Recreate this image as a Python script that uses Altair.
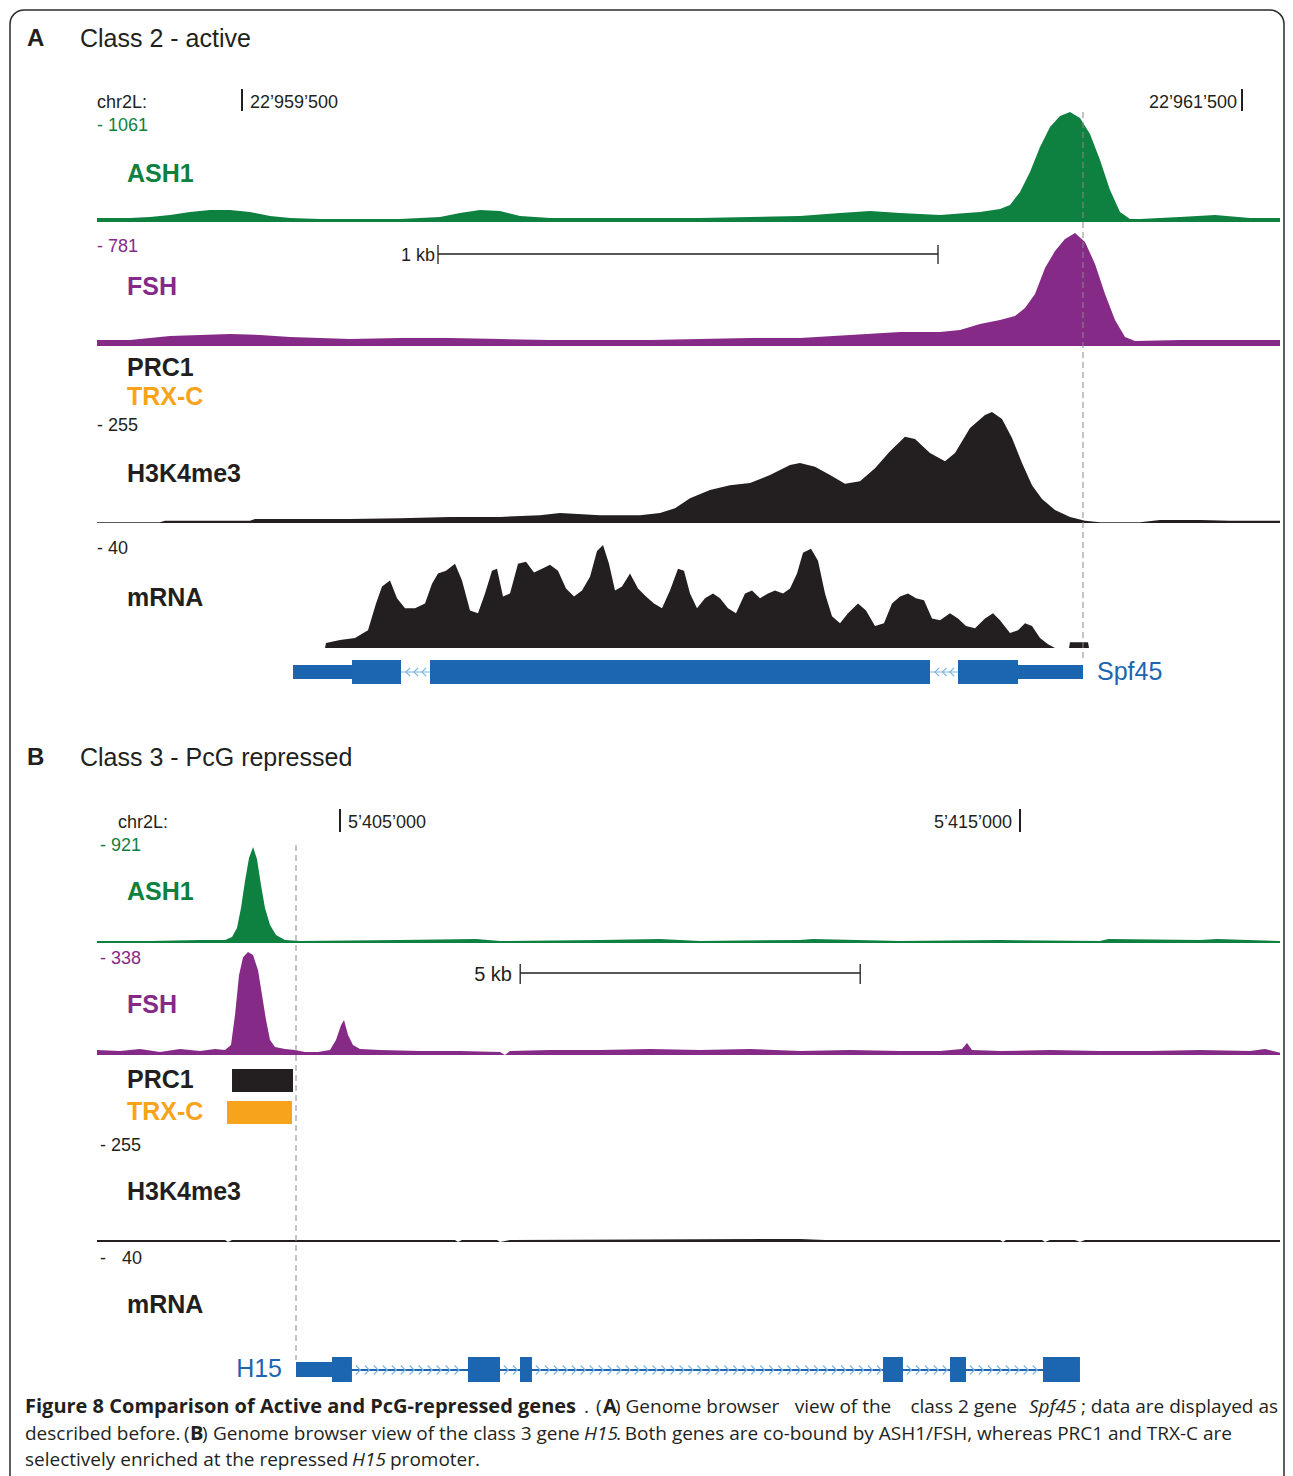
import altair as alt
import pandas as pd
import numpy as np

OFF = 8  # page margin
FONT = "Liberation Sans"
CAP_FONT = "Open Sans"
GREEN = "#0e8141"
PURPLE = "#862a87"
BLACK = "#231f20"
ORANGE = "#f8a31c"
BLUE = "#1b65b1"
LIGHTBLUE = "#7db6e6"
GRAY = "#8a8a8a"

# ---------------- Panel A: chr2L, offsets (bp) from 22,959,000 ----------------
A_BASE = 22_959_000
A_TICKS = [500, 2500]
A_TICK_LABELS = ["22\u2019959\u2019500", "22\u2019961\u2019500"]
A_SCALEBAR = [892, 1892]
A_TSS = 2182

ash1_a_pos = [210, 236, 276, 316, 356, 396, 436, 476, 516, 556, 596, 656, 736, 816, 896, 936,
              976, 1016, 1056, 1116, 1216, 1316, 1416, 1516, 1616, 1696, 1756, 1816, 1896, 1976,
              2016, 2036, 2056, 2076, 2096, 2116, 2136, 2156, 2176, 2196, 2216, 2236, 2256, 2276,
              2296, 2376, 2446, 2516, 2576]
ash1_a_val = [39, 39, 39, 48, 68, 97, 116, 116, 97, 58, 39, 29, 29, 29, 48, 87, 116, 106, 58, 39,
              39, 39, 39, 48, 58, 87, 106, 87, 68, 97, 125, 164, 290, 482, 724, 917, 1023, 1061,
              1004, 849, 598, 309, 97, 29, 29, 48, 68, 39, 39]

fsh_a_pos = [210, 276, 316, 356, 416, 476, 536, 596, 656, 716, 816, 916, 1016, 1116, 1216, 1316,
             1416, 1516, 1616, 1716, 1816, 1896, 1936, 1976, 2016, 2046, 2066, 2086, 2106, 2126,
             2146, 2166, 2186, 2206, 2226, 2246, 2266, 2286, 2376, 2476, 2576]
fsh_a_val = [41, 41, 55, 69, 76, 83, 76, 62, 55, 48, 55, 55, 48, 41, 41, 41, 48, 55, 55, 76, 97,
             97, 111, 152, 180, 207, 263, 359, 539, 656, 739, 781, 719, 567, 359, 180, 62, 35, 41,
             41, 41]

h3_a_pos = [210, 336, 346, 516, 526, 616, 716, 816, 916, 1016, 1096, 1136, 1216, 1296, 1336, 1366,
            1396, 1436, 1476, 1516, 1556, 1596, 1616, 1646, 1676, 1706, 1736, 1766, 1796, 1826,
            1846, 1876, 1906, 1926, 1956, 1986, 2000, 2020, 2040, 2060, 2080, 2100, 2126, 2156,
            2186, 2216, 2296, 2336, 2416, 2476, 2576]
h3_a_val = [2, 2, 5, 5, 9, 9, 9, 11, 14, 14, 18, 23, 18, 18, 23, 34, 57, 76, 87, 92, 110, 133, 138,
            129, 110, 90, 96, 126, 165, 198, 193, 161, 142, 161, 218, 248, 255, 239, 195, 138, 87,
            55, 30, 14, 5, 2, 2, 7, 7, 5, 5]

mrna_a_pos = [666, 668, 696, 726, 752, 768, 780, 796, 810, 826, 846, 866, 880, 892, 908, 926, 940,
              956, 972, 986, 1000, 1010, 1022, 1036, 1052, 1068, 1084, 1100, 1116, 1132, 1148,
              1164, 1180, 1196, 1210, 1222, 1234, 1246, 1260, 1276, 1292, 1308, 1324, 1340, 1356,
              1372, 1384, 1396, 1410, 1426, 1442, 1456, 1472, 1488, 1506, 1520, 1536, 1552, 1566,
              1582, 1596, 1610, 1622, 1638, 1652, 1666, 1680, 1696, 1712, 1732, 1748, 1766, 1784,
              1800, 1816, 1832, 1848, 1864, 1880, 1896, 1916, 1932, 1948, 1966, 1986, 2002, 2016,
              2036, 2052, 2066, 2080, 2096, 2112, 2126, 2154, 2156, 2192, 2194]
mrna_a_val = [0, 1.9, 3.1, 3.9, 6.9, 17.3, 23.9, 26.2, 19.3, 15.4, 15.4, 17.3, 25, 28.9, 30, 32.7,
              26.2, 14.6, 13.5, 21.2, 30, 30.8, 20, 21.2, 32.7, 33.5, 29.3, 30.8, 32.3, 30, 23.1,
              20, 22.3, 27.7, 37.7, 40, 32.7, 22.3, 23.9, 28.9, 23.1, 20, 17.3, 15.4, 22.3, 30.8,
              30, 21.2, 15.4, 19.3, 21.2, 19.3, 15.4, 13.5, 21.2, 22.3, 19.3, 21.2, 22.3, 21.2,
              23.1, 28.9, 37, 38.5, 33.9, 21.2, 12.3, 9.6, 13.5, 17.3, 14.6, 8.5, 9.6, 17.3, 20,
              21.2, 19.3, 18.5, 11.5, 10.8, 13.5, 11.5, 8.5, 7.7, 11.5, 13.5, 10.8, 5.8, 6.9, 9.6,
              8.5, 3.9, 1.5, 0, 0, 2.2, 2.2, 0]

gene_a_utr = [(602, 720), (2052, 2182)]
gene_a_exon = [(720, 818), (876, 1876), (1932, 2052)]
gene_a_chev = [832, 848, 864, 1890, 1905, 1920]

# ---------------- Panel B: chr2L, offsets (bp) from 5,400,000 ----------------
B_BASE = 5_400_000
B_TICKS = [5000, 15000]
B_TICK_LABELS = ["5\u2019405\u2019000", "5\u2019415\u2019000"]
B_SCALEBAR = [7650, 12650]
B_TSS = 4353

ash1_b_pos = [1426, 2206, 2941, 3309, 3412, 3485, 3544, 3603, 3662, 3721, 3779, 3838, 3897, 3971,
              4059, 4191, 4412, 5882, 7000, 7353, 8824, 9700, 10294, 11765, 11950, 13235, 14706,
              16176, 16300, 17647, 17900, 18824]
ash1_b_val = [19, 19, 29, 29, 58, 144, 336, 595, 816, 921, 806, 557, 336, 173, 77, 29, 19, 29, 38,
              19, 29, 38, 19, 29, 38, 19, 29, 19, 38, 29, 38, 19]

fsh_b_pos = [1426, 1765, 2059, 2353, 2647, 2941, 3162, 3309, 3397, 3456, 3515, 3574, 3647, 3721,
             3794, 3853, 3912, 3971, 4044, 4191, 4338, 4485, 4676, 4853, 4941, 5015, 5059, 5118,
             5191, 5294, 5588, 6176, 6765, 7353, 7426, 7500, 8088, 8824, 9559, 10294, 11029, 11765,
             12500, 13235, 13824, 14147, 14221, 14294, 14706, 15441, 16176, 16912, 17647, 18382,
             18603, 18824]
fsh_b_val = [16, 13, 20, 10, 20, 13, 20, 16, 33, 131, 262, 321, 338, 328, 279, 197, 115, 49, 26,
             20, 16, 10, 10, 16, 49, 98, 115, 66, 33, 20, 16, 13, 13, 10, 0, 13, 16, 16, 20, 16,
             20, 13, 16, 13, 13, 20, 39, 16, 13, 16, 13, 13, 16, 13, 20, 7]

h3_b_pos = [1426, 3309, 3353, 3412, 4265, 4412, 6691, 6735, 6794, 7309, 7353, 7500, 11765, 12132,
            14706, 14750, 14794, 15324, 15368, 15441, 15809, 15882, 15956, 18824]
h3_b_val = [5, 5, 0, 5, 5, 5, 5, 0, 5, 5, 0, 5, 8, 5, 5, 0, 5, 5, 0, 5, 5, 0, 5, 5]

prc1_b = [(3412, 4309)]
trxc_b = [(3338, 4294)]

gene_b_utr = [(4353, 4882)]
gene_b_exon = [(4882, 5176), (6882, 7353), (7647, 7823), (12985, 13279), (13971, 14206),
               (15338, 15882)]
gene_b_introns = [(5176, 6882), (7353, 7647), (7823, 12985), (13279, 13971), (14206, 15338)]

# ---------------- Caption (justified text, placed word-group by word-group) ----------------
caption = [
    # (text, x, y, weight, style, align)
    ("Figure 8 Comparison of Active and PcG-repressed genes", 25, 1406, "bold", "normal", "left"),
    (".", 584, 1406, "normal", "normal", "left"),
    ("(", 596, 1406, "normal", "normal", "left"),
    ("A", 603, 1406, "bold", "normal", "left"),
    (") Genome browser", 615, 1406, "normal", "normal", "left"),
    ("view of the", 843, 1406, "normal", "normal", "center"),
    ("class 2 gene", 1017, 1406, "normal", "normal", "right"),
    ("Spf45", 1029, 1406, "normal", "italic", "left"),
    ("; data are displayed as", 1278, 1406, "normal", "normal", "right"),
    ("described before.", 25, 1433, "normal", "normal", "left"),
    ("(", 184, 1433, "normal", "normal", "left"),
    ("B", 190, 1433, "bold", "normal", "left"),
    (")", 202, 1433, "normal", "normal", "left"),
    ("Genome browser view of the class 3 gene", 213, 1433, "normal", "normal", "left"),
    ("H15", 584, 1433, "normal", "italic", "left"),
    (".", 616, 1433, "normal", "normal", "left"),
    ("Both genes are co-bound by ASH1/FSH, whereas PRC1 and TRX-C are", 1232, 1433, "normal",
     "normal", "right"),
    ("selectively enriched at the repressed", 25, 1459, "normal", "normal", "left"),
    ("H15", 352, 1459, "normal", "italic", "left"),
    ("promoter.", 390, 1459, "normal", "normal", "left"),
]

# ---------------- helpers ----------------
def xscale_a():
    return alt.Scale(domain=[A_BASE + A_TICKS[0], A_BASE + A_TICKS[1]],
                     range=[242 - OFF, 1242 - OFF], zero=False, nice=False)


def xscale_b():
    return alt.Scale(domain=[B_BASE + B_TICKS[0], B_BASE + B_TICKS[1]],
                     range=[340 - OFF, 1020 - OFF], zero=False, nice=False)


def track(base, pos, val, vmax, y_base, y_top, color, xs):
    df = pd.DataFrame({"pos": [base + p for p in pos], "val": val})
    df["zero"] = 0
    return alt.Chart(df).mark_area(color=color, interpolate="linear").encode(
        x=alt.X("pos:Q", scale=xs, axis=None),
        y=alt.Y("val:Q", scale=alt.Scale(domain=[0, vmax], range=[y_base - OFF, y_top - OFF],
                                         zero=False, nice=False), axis=None),
        y2="zero:Q",
    )


def blocks(base, spans, y0, y1, color, xs):
    df = pd.DataFrame({"s": [base + a for a, b in spans], "e": [base + b for a, b in spans]})
    return alt.Chart(df).mark_rect(color=color).encode(
        x=alt.X("s:Q", scale=xs, axis=None), x2="e:Q",
        y=alt.value(y0 - OFF), y2=alt.value(y1 - OFF))


def hline(base, spans, y, color, xs, width=1.5):
    df = pd.DataFrame({"s": [base + a for a, b in spans], "e": [base + b for a, b in spans]})
    return alt.Chart(df).mark_rule(color=color, strokeWidth=width).encode(
        x=alt.X("s:Q", scale=xs, axis=None), x2="e:Q", y=alt.value(y - OFF))


def vlines(base, positions, y0, y1, color, xs, width=1.6, dash=None):
    df = pd.DataFrame({"p": [base + p for p in positions]})
    kw = dict(color=color, strokeWidth=width)
    if dash:
        kw["strokeDash"] = dash
    return alt.Chart(df).mark_rule(**kw).encode(
        x=alt.X("p:Q", scale=xs, axis=None), y=alt.value(y0 - OFF), y2=alt.value(y1 - OFF))


def chevrons(base, positions, y, xs, direction, size=70):
    path = "M0.5,-1L-0.5,0L0.5,1" if direction == "left" else "M-0.5,-1L0.5,0L-0.5,1"
    df = pd.DataFrame({"p": [base + p for p in positions]})
    return alt.Chart(df).mark_point(shape=path, filled=False, color=LIGHTBLUE, size=size,
                                    strokeWidth=1.2, opacity=1).encode(
        x=alt.X("p:Q", scale=xs, axis=None), y=alt.value(y - OFF))


def lab(text, x, y, size, color=BLACK, weight="normal", style="normal", align="left", font=FONT):
    df = pd.DataFrame({"t": [text]})
    return alt.Chart(df).mark_text(align=align, baseline="middle", fontSize=size, font=font,
                                   fontWeight=weight, fontStyle=style, color=color).encode(
        text="t:N", x=alt.value(x - OFF), y=alt.value(y - OFF + 1))


layers = []

# frame
frame_df = pd.DataFrame({"k": [0]})
layers.append(alt.Chart(frame_df).mark_rect(fill=None, stroke="#2b2b2b", strokeWidth=1.5,
                                            cornerRadius=14).encode(
    x=alt.value(10 - OFF), x2=alt.value(1284 - OFF), y=alt.value(10 - OFF), y2=alt.value(1500)))

# ---- Panel A ----
xa = xscale_a
layers += [
    lab("A", 27, 38, 24, weight="bold"),
    lab("Class 2 - active", 80, 38, 25),
    lab("chr2L:", 97, 102, 18),
    vlines(A_BASE, A_TICKS, 89, 111, BLACK, xa(), width=2),
    lab(A_TICK_LABELS[0], 250, 102, 18),
    lab(A_TICK_LABELS[1], 1237, 102, 18, align="right"),
    lab("- 1061", 97, 125, 18, color=GREEN),
    lab("ASH1", 127, 173, 25, color=GREEN, weight="bold"),
    lab("- 781", 97, 246, 18, color=PURPLE),
    lab("1 kb", 435, 255, 18, align="right"),
    hline(A_BASE, [tuple(A_SCALEBAR)], 254, BLACK, xa(), width=1.3),
    vlines(A_BASE, A_SCALEBAR, 245, 264, BLACK, xa(), width=1.3),
    lab("FSH", 127, 286, 25, color=PURPLE, weight="bold"),
    lab("PRC1", 127, 367, 25, weight="bold"),
    lab("TRX-C", 127, 396, 25, color=ORANGE, weight="bold"),
    lab("- 255", 97, 425, 18),
    lab("H3K4me3", 127, 473, 25, weight="bold"),
    lab("- 40", 97, 548, 18),
    lab("mRNA", 127, 597, 25, weight="bold"),
    track(A_BASE, ash1_a_pos, ash1_a_val, 1061, 222, 112, GREEN, xa()),
    track(A_BASE, fsh_a_pos, fsh_a_val, 781, 346, 233, PURPLE, xa()),
    track(A_BASE, h3_a_pos, h3_a_val, 255, 523, 412, BLACK, xa()),
    track(A_BASE, mrna_a_pos, mrna_a_val, 40, 648, 545, BLACK, xa()),
    vlines(A_BASE, [A_TSS], 112, 662, GRAY, xa(), width=1, dash=[6, 4]),
    hline(A_BASE, [(gene_a_utr[0][0], gene_a_utr[-1][1])], 672, LIGHTBLUE, xa(), width=1),
    blocks(A_BASE, gene_a_utr, 665, 679, BLUE, xa()),
    blocks(A_BASE, gene_a_exon, 660, 684, BLUE, xa()),
    chevrons(A_BASE, gene_a_chev, 672, xa(), "left"),
    lab("Spf45", 1097, 671, 25, color=BLUE),
]

# ---- Panel B ----
xb = xscale_b
chev_b = []
for s, e in gene_b_introns:
    chev_b += list(np.arange(s + 90, e - 40, 132))
layers += [
    lab("B", 27, 757, 24, weight="bold"),
    lab("Class 3 - PcG repressed", 80, 757, 25),
    lab("chr2L:", 118, 822, 18),
    vlines(B_BASE, B_TICKS, 809, 832, BLACK, xb(), width=2),
    lab(B_TICK_LABELS[0], 348, 822, 18),
    lab(B_TICK_LABELS[1], 1012, 822, 18, align="right"),
    lab("- 921", 100, 845, 18, color=GREEN),
    lab("ASH1", 127, 891, 25, color=GREEN, weight="bold"),
    lab("- 338", 100, 958, 18, color=PURPLE),
    lab("5 kb", 512, 974, 20, align="right"),
    hline(B_BASE, [tuple(B_SCALEBAR)], 973, BLACK, xb(), width=1.3),
    vlines(B_BASE, B_SCALEBAR, 964, 984, BLACK, xb(), width=1.3),
    lab("FSH", 127, 1004, 25, color=PURPLE, weight="bold"),
    lab("PRC1", 127, 1079, 25, weight="bold"),
    lab("TRX-C", 127, 1111, 25, color=ORANGE, weight="bold"),
    lab("- 255", 100, 1145, 18),
    lab("H3K4me3", 127, 1191, 25, weight="bold"),
    lab("-", 100, 1258, 18),
    lab("40", 122, 1258, 18),
    lab("mRNA", 127, 1304, 25, weight="bold"),
    track(B_BASE, ash1_b_pos, ash1_b_val, 921, 943, 847, GREEN, xb()),
    track(B_BASE, fsh_b_pos, fsh_b_val, 338, 1055, 952, PURPLE, xb()),
    track(B_BASE, h3_b_pos, h3_b_val, 255, 1242, 1145, BLACK, xb()),
    blocks(B_BASE, prc1_b, 1069, 1092, BLACK, xb()),
    blocks(B_BASE, trxc_b, 1101, 1124, ORANGE, xb()),
    vlines(B_BASE, [B_TSS], 845, 1360, GRAY, xb(), width=1, dash=[6, 4]),
    hline(B_BASE, [(gene_b_utr[0][0], gene_b_exon[-1][1])], 1370, BLUE, xb(), width=1.8),
    chevrons(B_BASE, chev_b, 1370, xb(), "right", size=80),
    blocks(B_BASE, gene_b_utr, 1362, 1377, BLUE, xb()),
    blocks(B_BASE, gene_b_exon, 1357, 1382, BLUE, xb()),
    lab("H15", 282, 1368, 25, color=BLUE, align="right"),
]

# ---- Caption ----
for t, x, y, w, st, al in caption:
    layers.append(lab(t, x, y, 20 if w == "bold" else 19, color="#231f20", weight=w, style=st,
                      align=al, font=CAP_FONT))

chart = alt.layer(*layers).resolve_scale(x="independent", y="independent").properties(
    width=1277, height=1460, padding=0
).configure_view(stroke=None)

chart.save("out.html", embed_options={"renderer": "svg", "actions": False})
